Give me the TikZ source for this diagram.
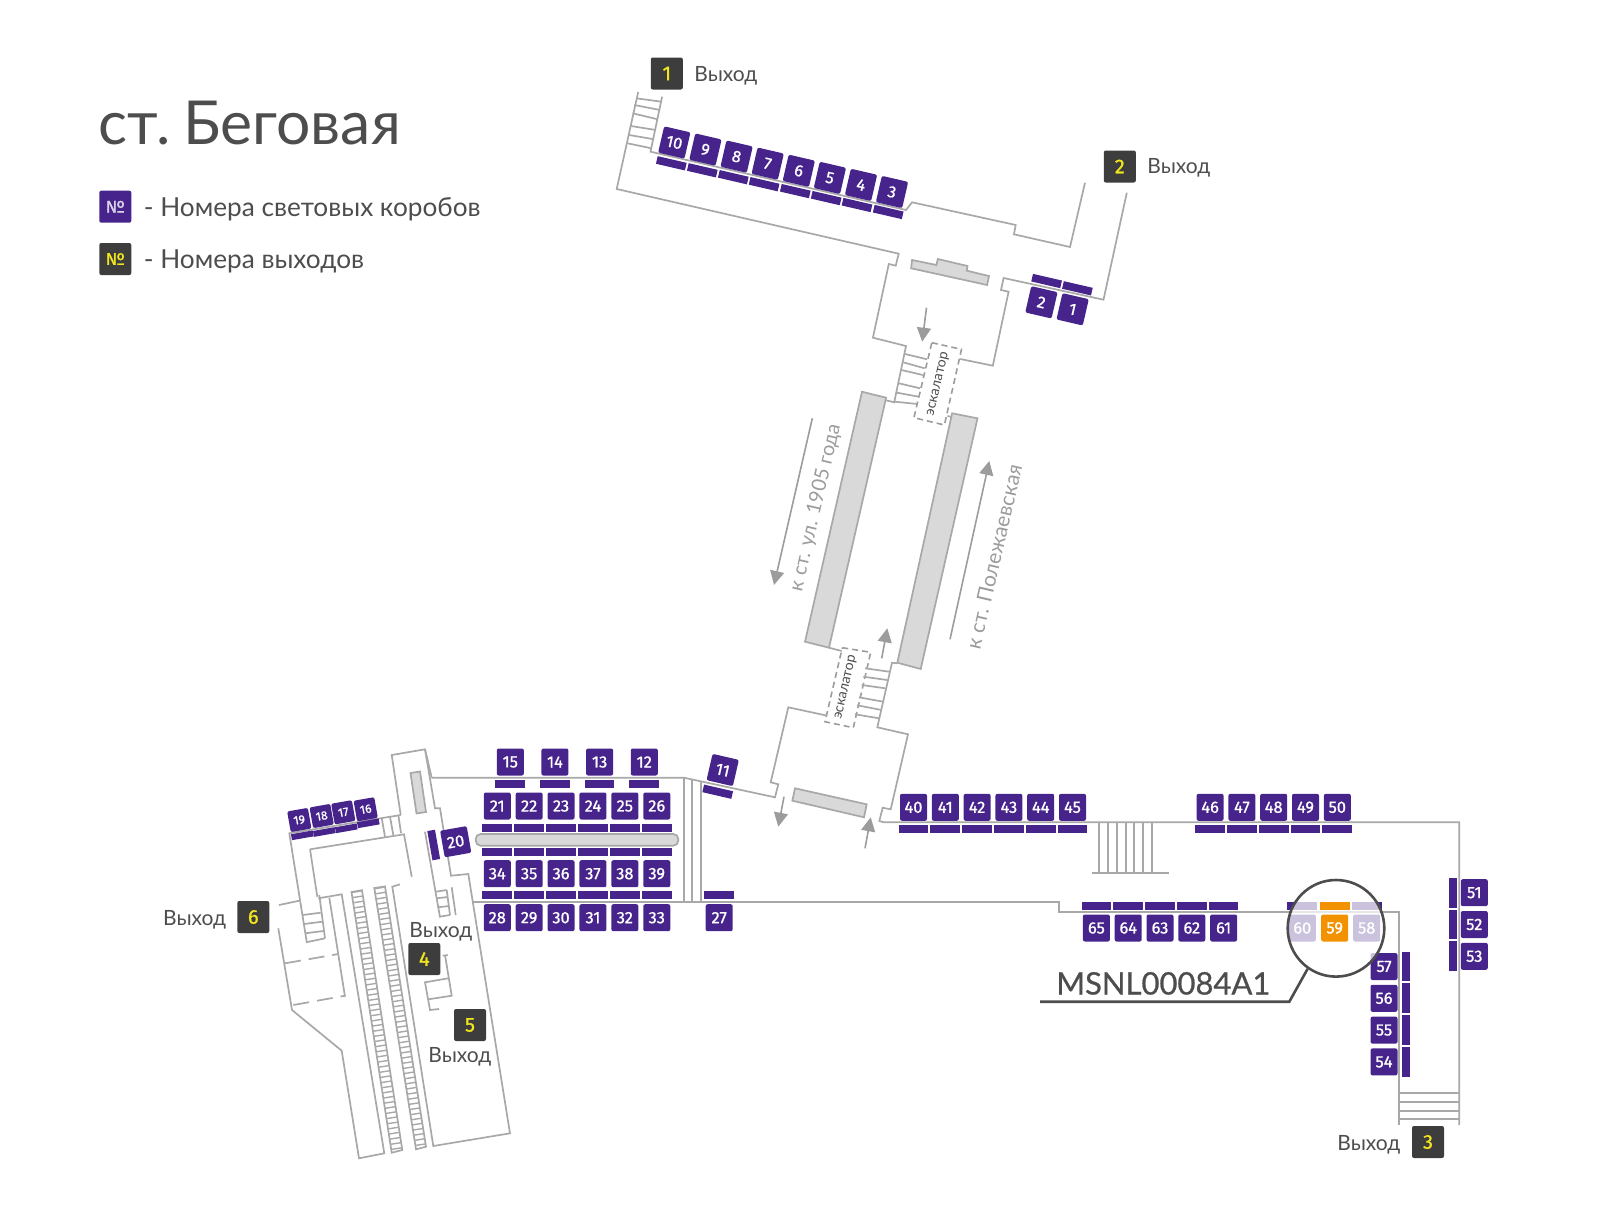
\documentclass[tikz,border=0pt]{standalone}
\usepackage{fontspec}
\setmainfont{Lato}
\newfontfamily\numfont[RawFeature={embolden=1}]{Fira Sans}
\newfontfamily\codefont[RawFeature={embolden=.7}]{Lato}
\usetikzlibrary{arrows.meta}
\definecolor{lightpurple}{HTML}{47248C}
\definecolor{exitgray}{HTML}{3D3D3D}
\definecolor{exityellow}{HTML}{F2E61E}
\definecolor{wallgray}{HTML}{A8A8A8}
\definecolor{slabgray}{HTML}{D9D9D9}
\definecolor{textgray}{HTML}{4D4D4D}
\definecolor{tracegray}{HTML}{9C9C9C}
\definecolor{soldorange}{HTML}{F39200}
\tikzset{
	lightbox/.style={fill=lightpurple,text=white,rounded corners=1pt,minimum size=13.5pt,inner sep=0pt,outer sep=0pt,font=\numfont\fontsize{8.2pt}{8.2pt}\selectfont},
	smallbox/.style={lightbox,minimum size=10.5pt,font=\numfont\fontsize{6pt}{6pt}\selectfont},
	lightbar/.style={fill=lightpurple,minimum width=14.85pt,minimum height=3.9pt,inner sep=0pt,outer sep=0pt},
	smallbar/.style={lightbar,minimum width=11pt,minimum height=3pt},
	upbar/.style={lightbar,minimum width=3.9pt,minimum height=14.85pt},
	exitbox/.style={fill=exitgray,text=exityellow,rounded corners=1pt,minimum size=16pt,inner sep=0pt,outer sep=0pt,font=\numfont\fontsize{10pt}{10pt}\selectfont},
	exitlabel/.style={text=textgray,inner sep=0pt,font=\fontsize{10.5pt}{10.5pt}\selectfont},
	legendlabel/.style={text=textgray,inner sep=0pt,anchor=west,font=\fontsize{13.1pt}{13.1pt}\selectfont},
	wall/.style={draw=wallgray,line width=.85pt,line join=miter},
	slab/.style={draw=wallgray,fill=slabgray,line width=.85pt},
	passage/.style={draw=tracegray,line width=.8pt,dashed,dash pattern=on 3pt off 2pt},
	flowarrow/.style={draw=tracegray,fill=tracegray,line width=.8pt,-{Triangle[length=7pt,width=7pt]}},
	escalabel/.style={text=textgray,inner sep=0pt,rotate=77,font=\fontsize{7pt}{7pt}\selectfont},
	tracklabel/.style={text=tracegray,inner sep=0pt,rotate=77,font=\fontsize{10pt}{10pt}\selectfont},
}
\begin{document}
\begin{tikzpicture}[x=.5pt,y=-.5pt]
	\useasboundingbox (0,0) rectangle (1600,1216);

	% title and legend
	\node (title) [anchor=base west,inner sep=0pt,text=textgray,font=\fontsize{30.3pt}{30.3pt}\selectfont] at (98.5,144) {ст.\kern-1.2pt\ Беговая};
	\node (legend light) [lightbox,minimum size=16pt,font=\numfont\fontsize{8.5pt}{8.5pt}\selectfont,text=white!80!lightpurple] at (115.3,206.7) {№};
	\node (legend exit) [exitbox,font=\numfont\fontsize{8.5pt}{8.5pt}\selectfont] at (115.3,259) {№};
	\node (legend light text) [legendlabel] at (143.5,209) {- Номера световых коробов};
	\node (legend exit text) [legendlabel] at (143.5,261) {- Номера выходов};

	% north vestibule
	\draw [wall] (638.2,92) -- (616.7,189) -- (898.7,253.7) -- (895.7,265.7) -- (888.8,264) -- (872.9,337.7) -- (906,346) -- (894.2,402.3) -- (886.1,400.3);
	\draw [wall] (662.1,96.7) -- (650.5,151.7) -- (906,210) -- (912.1,202.3) -- (1015.7,225) -- (1013.9,234.3) -- (1070,247) -- (1085,182.7);
	\draw [wall] (1126.8,192.7) -- (1103.5,299.7) -- (1003.6,278) -- (1001,290) -- (1008.6,291.7) -- (992.8,365.7) -- (960.3,359);
	\draw [wall] (636.4,98.3) -- (661.4,101.7) (634.3,105) -- (660,110) (632.6,113.3) -- (657.8,119.3) (631,126) -- (655.8,130) (629.2,135) -- (654,139.3) (627.5,143.3) -- (651.5,148.3);
	\draw [wall] (905,354) -- (927.1,359.3) (903.2,362.3) -- (924.6,368.3) (901.4,370) -- (922.8,375) (898.9,383.3) -- (920,388.3) (897.1,392.7) -- (918.6,396.7) (895,401.7) -- (917.6,404);
	\draw [wall] (947.4,416) -- (952.3,417);
	\draw [slab] (912.1,260) -- (936.4,265) -- (937.8,259) -- (967.5,266) -- (966.8,270.7) -- (989,276) -- (987.1,285) -- (911.1,268.3) -- cycle;
	\draw [passage] (931.8,342.7) -- (961.5,349.3) -- (944.4,425) -- (913.9,417.7) -- cycle;
	\node (esca north) [escalabel] at (938.4,384) {эскалатор};
	\coordinate (north from) at (926.5,307.7);
	\coordinate (north to) at (922.2,341.7);
	\draw [flowarrow] (north from) -- (north to);

	% platform
	\draw [slab] (862,391.7) -- (886.1,397.7) -- (829,647.7) -- (805,641.7) -- cycle;
	\draw [slab] (952.1,413.3) -- (977.5,418.3) -- (920.7,669) -- (897.3,662.7) -- cycle;
	\coordinate (track left from) at (812.3,418.3);
	\coordinate (track left to) at (774,585);
	\coordinate (track right from) at (950,639.3);
	\coordinate (track right to) at (989.3,461);
	\draw [flowarrow] (track left from) -- (track left to);
	\draw [flowarrow] (track right from) -- (track right to);
	\node (track left) [tracklabel] at (815.7,507.5) {к ст. ул. 1905 года};
	\node (track right) [tracklabel,font=\fontsize{10.5pt}{10.5pt}\selectfont] at (994,556.7) {к ст. Полежаевская};

	% south vestibule
	\draw [wall] (829,647.7) -- (841.7,651);
	\draw [passage] (842.3,647.7) -- (870.7,652.3) -- (853.3,727.7) -- (825,721.7) -- cycle;
	\node (esca south) [escalabel] at (846,687.3) {эскалатор};
	\draw [wall] (897.3,663.3) -- (892,662.7) -- (877.3,727.3) -- (908,734.3) -- (890.7,809.3) -- (882.7,807.7) -- (879.3,821) -- (884,822.3) -- (1459.3,822.3) -- (1459.3,1125);
	\draw [wall] (865,668.3) -- (889.3,671.7) (863.3,676.7) -- (887.3,680) (861.7,685) -- (885.3,688.3) (859,697.3) -- (883.3,701.7) (857.3,705.3) -- (881.7,710) (855,714.3) -- (879.3,718.3);
	\draw [wall] (827.3,715.7) -- (788.3,707.3) -- (770.7,782.3) -- (778.3,784.3) -- (775,797.3) -- (684,777.7) -- (431.7,777.7);
	\draw [slab] (795,788.3) -- (866.7,804.3) -- (864,817.3) -- (792.3,800.7) -- cycle;
	\coordinate (south up from) at (881.7,658.3);
	\coordinate (south up to) at (887.3,628.3);
	\coordinate (south down from) at (784,796.7);
	\coordinate (south down to) at (778.3,826.7);
	\coordinate (south in from) at (865,848.3);
	\coordinate (south in to) at (870.7,817.3);
	\draw [flowarrow] (south up from) -- (south up to);
	\draw [flowarrow] (south down from) -- (south down to);
	\draw [flowarrow] (south in from) -- (south in to);

	% corridors
	\draw [wall] (473.3,902) -- (1059.3,902) -- (1059.3,912) -- (1399.3,912) -- (1399.3,1125);
	\draw [wall] (684,777.7) -- (684,902) (691.7,779) -- (691.7,902) (700.7,781) -- (700.7,902);
	\draw [wall] (1099.3,822.3) -- (1099.3,873.3) (1108.3,822.3) -- (1108.3,873.3) (1117.3,822.3) -- (1117.3,873.3) (1125.7,822.3) -- (1125.7,873.3) (1134,822.3) -- (1134,873.3) (1142.7,822.3) -- (1142.7,873.3) (1151.7,822.3) -- (1151.7,873.3);
	\draw [wall] (1091.7,873.3) -- (1169,873.3);
	\draw [wall] (1399.3,1092.7) -- (1459.3,1092.7) (1399.3,1101.7) -- (1459.3,1101.7) (1399.3,1110.7) -- (1459.3,1110.7) (1399.3,1119.3) -- (1459.3,1119.3);
	\draw [slab,rounded corners=2.5pt] (475.7,834) rectangle (678.3,845.7);

	% west hall
	\draw [wall] (431.7,777.7) -- (425,749.3) -- (391.7,755) -- (400.7,815);
	\draw [wall] (425,749.3) -- (435,808.3) -- (440,808.3) -- (451,875.7) -- (468.3,874) -- (510,1133.3) -- (433.3,1146) -- (392.3,886.7) -- (400,884.3);
	\draw [wall] (306.7,941.7) -- (289.3,833.3) -- (400.7,815);
	\draw [wall] (310,849.3) -- (404,834.3) -- (411.7,876.7);
	\draw [wall] (310,849.3) -- (317.3,896.7) (318.3,898.3) -- (341.7,894.3) -- (384.3,1153.3) -- (359,1158.3) -- (341.7,1050.7) -- (292,1010) -- (278.3,928.3);
	\draw [wall] (279,905) -- (299.3,900.7);
	\draw [wall] (319.3,895) -- (325,938.3);
	\draw [wall] (329.3,897.7) -- (345,996.7);
	\draw [wall] (302.7,915) -- (320.7,912.7) (304,924) -- (322.3,921.7) (305,933.3) -- (323.3,931) (306,942.3) -- (325,938.3);
	\draw [wall,dashed,dash pattern=on 8pt off 4pt] (285,963.3) -- (338.3,954);
	\draw [wall,dashed,dash pattern=on 8pt off 4pt] (293.3,1005) -- (345,995.7);
	\draw [wall] (381.7,818) -- (385,836.7) (390,816.7) -- (393.3,835) (398.3,815) -- (401,833);
	\draw [wall] (425,831.7) -- (440,917.3);
	\draw [wall] (446.7,890) -- (450,915) (451.7,887.3) -- (455.7,915);
	\draw [wall] (435.7,891.7) -- (446.7,890) (436.7,898.3) -- (447.7,897) (437.7,907.3) -- (449,906) (439.3,916.7) -- (450,915);
	\draw [wall] (442.7,955.7) -- (447.7,955) (445,955) -- (451.7,995.7) -- (428.3,999.3);
	\draw [wall] (448.3,978.3) -- (425,982.3) -- (430,1010) -- (439,1009);
	\draw [slab] (410.5,773) -- (420,771.5) -- (426,812) -- (416.5,813.5) -- cycle;

	% escalators, rails and steps
	\coordinate (esc one top) at (356.5,891);
	\coordinate (esc one end) at (397,1151.4);
	\coordinate (esc two top) at (379.6,887.2);
	\coordinate (esc two end) at (421,1148);
	\draw [wall] (351.5,892) -- (391.7,1152.7) -- (402.3,1150) -- (362,890.2) -- cycle;
	\draw [wall] (374.3,888) -- (416,1149.3) -- (426,1146.7) -- (385,886.4) -- cycle;
	\draw [draw=wallgray,line width=5pt,dash pattern=on .7pt off 1.9pt] (esc one top) -- (esc one end);
	\draw [draw=wallgray,line width=5pt,dash pattern=on .7pt off 1.9pt] (esc two top) -- (esc two end);

	% north light boxes
	\node (box 10) [lightbox,rotate=-13] at (674.3,142.5) {10};
	\node (box 9) [lightbox,rotate=-13] at (705.4,149.6) {9};
	\node (box 8) [lightbox,rotate=-13] at (736.6,156.6) {8};
	\node (box 7) [lightbox,rotate=-13] at (767.7,163.7) {7};
	\node (box 6) [lightbox,rotate=-13] at (798.8,170.8) {6};
	\node (box 5) [lightbox,rotate=-13] at (829.9,177.9) {5};
	\node (box 4) [lightbox,rotate=-13] at (861,184.9) {4};
	\node (box 3) [lightbox,rotate=-13] at (892,192) {3};
	\node (bar 10) [lightbar,rotate=-13] at (671.3,163.3) {};
	\node (bar 9) [lightbar,rotate=-13] at (702.3,170.3) {};
	\node (bar 8) [lightbar,rotate=-13] at (733.3,177.2) {};
	\node (bar 7) [lightbar,rotate=-13] at (764.1,184.2) {};
	\node (bar 6) [lightbar,rotate=-13] at (795.3,191.1) {};
	\node (bar 5) [lightbar,rotate=-13] at (826.2,198.1) {};
	\node (bar 4) [lightbar,rotate=-13] at (857,205) {};
	\node (bar 3) [lightbar,rotate=-13] at (888.2,212) {};
	\node (box 2) [lightbox,rotate=-13] at (1041.4,302.3) {2};
	\node (box 1) [lightbox,rotate=-13] at (1072.6,309.3) {1};
	\node (bar 2) [lightbar,rotate=-13] at (1046.6,281) {};
	\node (bar 1) [lightbar,rotate=-13] at (1077.4,288.3) {};

	% west light boxes
	\node (box 11) [lightbox,rotate=-13] at (722.7,770) {11};
	\node (bar 11) [lightbar,rotate=-13] at (717.7,791.7) {};
	\node (box 19) [smallbox,rotate=10] at (299.3,820) {19};
	\node (box 18) [smallbox,rotate=10] at (321.7,816) {18};
	\node (box 17) [smallbox,rotate=10] at (343.3,812.3) {17};
	\node (box 16) [smallbox,rotate=10] at (365.7,809.3) {16};
	\node (bar 19) [smallbar,rotate=10] at (302.3,835.3) {};
	\node (bar 18) [smallbar,rotate=10] at (324.3,832) {};
	\node (bar 17) [smallbar,rotate=10] at (346.3,828.3) {};
	\node (bar 16) [smallbar,rotate=10] at (368.3,823.3) {};
	\node (box 20) [lightbox,rotate=10] at (455.7,841.7) {20};
	\node (bar 20) [upbar,rotate=10] at (433.7,845) {};

	\matrix (row top) [nodes={lightbox},column sep=8.83pt] at (577.3,762){
		\node (box 15) {15}; & \node (box 14) {14}; & \node (box 13) {13}; & \node (box 12) {12}; \\
	};
	\matrix (row top bars) [nodes={lightbar},column sep=7.48pt] at (577.3,783.7){
		\node (bar 15) {}; & \node (bar 14) {}; & \node (bar 13) {}; & \node (bar 12) {}; \\
	};
	\matrix (row upper) [nodes={lightbox},column sep=2.45pt] at (577,806){
		\node (box 21) {21}; & \node (box 22) {22}; & \node (box 23) {23}; & \node (box 24) {24}; & \node (box 25) {25}; & \node (box 26) {26}; \\
	};
	\matrix (row upper bars) [nodes={lightbar},column sep=1.1pt] at (577,828){
		\node (bar 21) {}; & \node (bar 22) {}; & \node (bar 23) {}; & \node (bar 24) {}; & \node (bar 25) {}; & \node (bar 26) {}; \\
	};
	\matrix (row middle bars) [nodes={lightbar},column sep=1.1pt] at (577,851.7){
		\node (bar 34) {}; & \node (bar 35) {}; & \node (bar 36) {}; & \node (bar 37) {}; & \node (bar 38) {}; & \node (bar 39) {}; \\
	};
	\matrix (row middle) [nodes={lightbox},column sep=2.45pt] at (577,873.7){
		\node (box 34) {34}; & \node (box 35) {35}; & \node (box 36) {36}; & \node (box 37) {37}; & \node (box 38) {38}; & \node (box 39) {39}; \\
	};
	\matrix (row lower bars) [nodes={lightbar},column sep=1.1pt] at (577,895.3){
		\node (bar 28) {}; & \node (bar 29) {}; & \node (bar 30) {}; & \node (bar 31) {}; & \node (bar 32) {}; & \node (bar 33) {}; \\
	};
	\matrix (row lower) [nodes={lightbox},column sep=2.45pt] at (577,917.7){
		\node (box 28) {28}; & \node (box 29) {29}; & \node (box 30) {30}; & \node (box 31) {31}; & \node (box 32) {32}; & \node (box 33) {33}; \\
	};
	\node (box 27) [lightbox] at (719.2,917.7) {27};
	\node (bar 27) [lightbar] at (719.2,895.3) {};

	% east light boxes
	\matrix (row east one) [nodes={lightbox},column sep=2.4pt] at (993,807.3){
		\node (box 40) {40}; & \node (box 41) {41}; & \node (box 42) {42}; & \node (box 43) {43}; & \node (box 44) {44}; & \node (box 45) {45}; \\
	};
	\matrix (row east one bars) [nodes={lightbar},column sep=1.05pt] at (993,829){
		\node (bar 40) {}; & \node (bar 41) {}; & \node (bar 42) {}; & \node (bar 43) {}; & \node (bar 44) {}; & \node (bar 45) {}; \\
	};
	\matrix (row east two) [nodes={lightbox},column sep=2.4pt] at (1273.7,807.3){
		\node (box 46) {46}; & \node (box 47) {47}; & \node (box 48) {48}; & \node (box 49) {49}; & \node (box 50) {50}; \\
	};
	\matrix (row east two bars) [nodes={lightbar},column sep=1.05pt] at (1273.7,829){
		\node (bar 46) {}; & \node (bar 47) {}; & \node (bar 48) {}; & \node (bar 49) {}; & \node (bar 50) {}; \\
	};
	\matrix (row south) [nodes={lightbox},column sep=2.4pt] at (1160,928){
		\node (box 65) {65}; & \node (box 64) {64}; & \node (box 63) {63}; & \node (box 62) {62}; & \node (box 61) {61}; \\
	};
	\matrix (row south bars) [nodes={lightbar},column sep=1.05pt] at (1160,906){
		\node (bar 65) {}; & \node (bar 64) {}; & \node (bar 63) {}; & \node (bar 62) {}; & \node (bar 61) {}; \\
	};
	\matrix (column far) [nodes={lightbox},row sep=2.4pt] at (1474.3,924.5){
		\node (box 51) {51}; \\
		\node (box 52) {52}; \\
		\node (box 53) {53}; \\
	};
	\matrix (column far bars) [nodes={upbar},row sep=1.05pt] at (1452.7,924.5){
		\node (bar 51) {}; \\
		\node (bar 52) {}; \\
		\node (bar 53) {}; \\
	};
	\matrix (column near) [nodes={lightbox},row sep=2.4pt] at (1384,1014.2){
		\node (box 57) {57}; \\
		\node (box 56) {56}; \\
		\node (box 55) {55}; \\
		\node (box 54) {54}; \\
	};
	\matrix (column near bars) [nodes={upbar},row sep=1.05pt] at (1406,1014.2){
		\node (bar 57) {}; \\
		\node (bar 56) {}; \\
		\node (bar 55) {}; \\
		\node (bar 54) {}; \\
	};

	% marked box in the circle
	\node (box 60) [lightbox] at (1302.3,928) {60};
	\node (box 58) [lightbox] at (1366.7,928) {58};
	\node (bar 60) [lightbar] at (1302.3,906) {};
	\node (bar 58) [lightbar] at (1366.7,906) {};
	\fill [white,opacity=.72] (1336,928.3) circle (48.3);
	\node (box 59) [lightbox,fill=soldorange] at (1334.7,928) {59};
	\node (bar 59) [lightbar,fill=soldorange] at (1334.7,906) {};
	\node (callout) [circle,draw=textgray,line width=1.3pt,minimum size=48.3pt,inner sep=0pt] at (1336,928.3) {};
	\coordinate (callout knee) at (1289.3,1001.7);
	\coordinate (callout end) at (1040,1001.7);
	\draw [draw=textgray,line width=1.3pt] (callout.235) -- (callout knee) -- (callout end);
	\node (code) [text=textgray,inner sep=0pt,anchor=base,font=\codefont\fontsize{15.5pt}{15.5pt}\selectfont] at (1163.3,994.5) {MSNL00084A1};

	% exits
	\node (exit 1) [exitbox] at (666.8,73.5) {1};
	\node (exit 1 text) [exitlabel,anchor=west] at (694,76) {Выход};
	\node (exit 2) [exitbox] at (1119.8,166.5) {2};
	\node (exit 2 text) [exitlabel,anchor=west] at (1147,168) {Выход};
	\node (exit 3) [exitbox] at (1428,1142) {3};
	\node (exit 3 text) [exitlabel,anchor=east] at (1400.8,1145) {Выход};
	\node (exit 4) [exitbox] at (424.3,959) {4};
	\node (exit 4 text) [exitlabel,anchor=west] at (409,932) {Выход};
	\node (exit 5) [exitbox] at (470,1025) {5};
	\node (exit 5 text) [exitlabel,anchor=west] at (428,1057) {Выход};
	\node (exit 6) [exitbox] at (253.3,917) {6};
	\node (exit 6 text) [exitlabel,anchor=east] at (226.5,920) {Выход};
\end{tikzpicture}
\end{document}
